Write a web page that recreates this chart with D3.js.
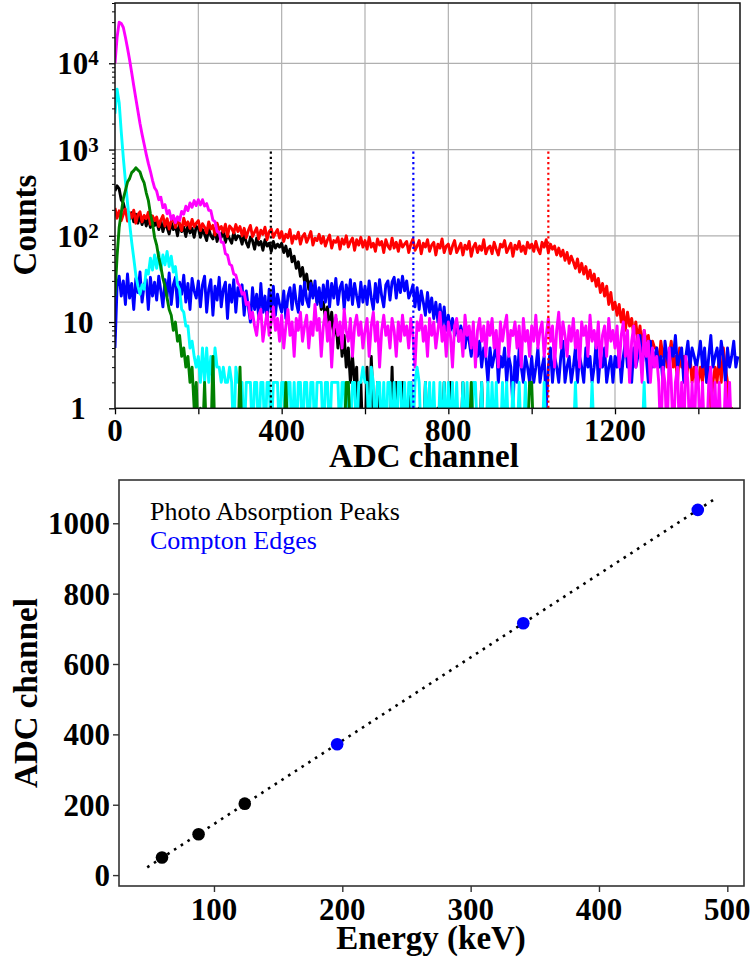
<!DOCTYPE html>
<html><head><meta charset="utf-8">
<script src="https://cdn.jsdelivr.net/npm/d3@7"></script>
<style>
html,body{margin:0;padding:0;background:#fff;}
svg{display:block;}
text{font-family:"Liberation Serif","Times New Roman",Times,serif;}
</style></head><body>
<svg id="chart" width="751" height="958"></svg>
<script>
// ---------- DATA: spectra (counts per channel, sampled every CH_STEP channels) ----------
const CH_STEP = 5;

const blackCounts = [
330,380,350,260,240,190,196,155,185,145,178,140,172,135,165,130,160,125,155,132,
145,118,150,112,138,125,105,142,118,132,100,138,112,126,98,134,108,122,96,128,
124,96,118,104,88,122,100,92,116,86,108,96,118,84,104,92,82,110,90,100,
98,80,104,84,74,96,88,70,94,78,86,68,90,76,82,66,86,72,80,74,
82,64,76,58,70,50,58,42,50,34,43,29,36,24,30,20,26,17,22,14,
17,11,15,8,13,7,11,5,9,4,7,3,5,2,4,2,3,0,2,0,
0,3,0,4,1,0,2,0,0,1,0,0,0,3,0,2,0,0,2,0,
0,0,2,0,0,0,1,0,0,2,0,0,0,0,0,1,0,0,2,0,
0,2,0,0,0,0,0,2,0,0,0,1,0,0,0,0,2,0,0,0
];

const redCounts = [
210,160,195,150,178,205,148,185,162,198,140,176,190,145,172,158,188,136,170,150,
165,128,152,172,130,158,120,148,168,125,150,138,115,160,132,145,122,155,128,140,
150,115,138,126,108,145,120,132,102,140,118,128,110,136,98,130,122,108,135,112,
128,100,122,95,115,132,98,110,124,92,116,104,126,90,112,120,96,108,118,94,
112,86,104,95,118,82,100,92,110,80,98,106,84,96,112,78,94,88,104,82,
98,76,90,102,72,88,84,96,70,92,80,100,74,86,94,68,90,78,96,74,
88,70,96,74,82,66,92,78,86,64,90,76,70,94,72,84,66,88,74,80,
86,64,80,92,68,76,88,62,82,74,90,66,78,84,60,80,72,92,64,76,
80,62,76,88,64,72,82,60,78,70,86,58,74,82,64,76,68,90,62,72,
76,62,84,70,60,80,74,88,64,72,82,58,78,70,86,66,76,62,84,72,
80,66,86,70,62,84,74,90,64,80,70,76,60,72,58,68,52,64,48,58,
50,42,54,38,48,36,44,32,40,30,36,26,32,22,28,20,26,16,22,14,
17,12,16,10,14,8,13,9,11,7,10,6,9,5,8,6,7,4,6,5,
5,3,6,4,5,3,4,6,3,4,2,5,3,4,2,3,4,2,3,2,
2,3,2,4,2,3,1,2,3,2,4,2,5,3,2,0,1,0,0,1
];

const blueCounts = [
5,26,34,20,30,16,36,19,28,14,32,22,38,17,27,31,14,33,20,29,
18,34,23,15,31,20,37,16,27,33,15,29,21,35,17,28,14,32,23,19,
30,15,27,34,13,24,31,12,26,18,33,15,24,29,11,27,17,31,13,25,
20,27,12,23,15,10,25,14,21,11,28,13,20,10,24,14,26,12,21,16,
13,23,11,20,25,14,27,17,13,26,16,29,18,15,28,19,30,16,25,15,
27,17,30,15,28,19,32,16,25,29,14,27,18,31,16,28,20,15,29,17,
26,16,30,19,14,28,17,31,20,15,27,30,18,29,33,19,31,22,34,23,
30,19,22,27,15,25,14,23,17,12,22,13,19,11,17,10,16,9,15,8,
12,8,11,7,10,6,9,7,5,8,6,4,7,5,4,6,3,5,4,2,
5,3,4,6,2,4,3,5,2,4,3,1,4,2,5,3,2,4,3,2,
4,2,3,5,2,3,4,1,3,5,2,4,3,2,4,6,2,3,4,2,
3,5,2,4,3,2,5,3,4,2,3,6,2,4,3,5,2,3,4,2,
4,3,5,2,4,6,3,4,2,5,3,4,7,3,5,4,2,6,3,4,
5,3,4,2,6,4,3,5,4,7,3,4,5,2,4,6,3,5,4,3,
4,6,3,5,2,4,7,3,4,5,3,6,4,2,5,3,4,6,3,4
];

const magentaCounts = [
10000,20000,30000,29000,26000,20000,15000,11000,7800,5500,3900,2800,2000,1500,1150,880,690,560,440,360,
330,262,280,212,230,180,196,155,172,142,166,150,192,178,220,196,240,214,256,224,
262,228,262,222,236,198,196,152,146,112,110,84,84,62,60,47,45,36,35,28,
26,21,22,16,17,11,13,9,7,12,14,6,9,13,7,10,15,8,11,6,
12,5,9,14,7,10,4,11,8,13,6,9,12,5,10,7,16,8,11,4,
9,13,6,10,3,8,12,7,10,5,14,8,6,11,4,9,12,7,10,5,
8,11,4,9,13,6,10,3,8,12,7,9,5,11,8,4,10,6,12,7,
9,5,11,7,3,10,8,12,6,9,4,11,7,10,5,8,13,6,9,4,
10,7,3,9,11,6,8,4,12,7,9,5,10,3,8,11,6,9,4,10,
7,11,5,8,3,10,6,9,12,4,8,7,10,5,9,3,11,6,8,4,
9,6,12,5,8,10,4,7,11,6,9,3,8,13,5,10,7,4,9,6,
11,5,8,3,10,7,9,4,12,6,8,5,10,3,7,9,4,11,6,8,
5,9,3,7,10,4,8,2,6,9,3,7,5,2,8,4,6,2,5,3,
4,2,0,3,2,0,5,2,0,2,3,0,2,0,4,2,0,2,0,3,
2,0,2,0,0,2,3,0,2,0,2,0,0,2,0,2,0,0,0,0
];

const cyanCounts = [
2600,5000,3500,1600,800,430,240,140,85,55,35,26,21,27,24,40,36,55,40,60,
42,64,40,60,46,66,44,58,38,44,27,24,14,13,9,9,5,6,4,3,
4,2,5,2,5,2,4,2,5,3,3,2,3,2,2,3,2,0,3,2,
2,2,0,2,2,2,0,2,2,0,2,2,0,2,2,0,2,2,2,0,
2,2,0,2,2,0,2,0,2,2,0,2,2,0,2,2,0,2,2,2,
0,2,2,0,2,2,2,2,0,2,2,0,2,0,2,2,0,2,2,3,
2,2,0,3,2,0,2,2,0,2,0,2,2,0,2,0,2,2,0,2,
0,2,2,0,2,3,2,0,0,2,0,2,0,2,0,0,2,0,2,0,
2,0,2,0,2,0,0,2,0,2,0,0,2,2,0,0,2,0,0,2,
0,2,0,2,0,0,2,0,2,0,0,2,0,0,2,0,0,2,0,0,
0,0,0,0,0,0,2,0,0,0,0,0,0,0,0,0,0,0,0,0,
0,2,0,0,0,0,0,0,0,2,0,0,0,0,0,0,0,0,0,0,
0,0,0,0,0,0,0,0,0,0,0,0,0,0,2,0,0,0,0,0
];

const greenCounts = [
20,58,125,185,270,335,420,460,540,570,615,580,548,462,410,315,258,180,140,96,
78,56,44,32,26,19,14,12,8,10,6,7,4,5,3,4,2,3,1,2,
0,1,0,2,0,0,0,4,0,0,0,0,0,0,0,0,0,0,0,0,
3,0,0,0,0,0,0,0,0,0,0,0,0,0,0,0,0,0,0,0,
0,0,2,0,0,0,0,0,0,0,0,0,0,0,0,0,0,0,0,0,
0,0,0,0,0,0,0,0,0,0,0,2,2,0,0,0,0,0,0,0,
0,0,0,0,0,0,0,0,0,0,0,0,0,0,0,0,0,0,0,0,
0,0,0,0,0,0,0,0,0,0,0,0,0,0,0,0,0,0,0,0,
0,0,0,0,0,0,0,0,0,0,0,2,0,0,0,0,0,0,0,0,
0,0,0,0,0,0,0,0,0,0,0,0,0,0,0,0,0,0,0,2,
2,0
];

// vertical dotted markers in spectrum panel (ADC channel)
const markerChannels = [374, 716, 1040];
const markerColors = ["#000000", "#0000ff", "#ff0000"];
const markerTopCount = 950;

// top axis ticks
const xTicksTop = [0, 200, 400, 600, 800, 1000, 1200, 1400];
const xTickLabelsTop = ["0", "", "400", "", "800", "", "1200", ""];
const yDecades = [1, 10, 100, 1000, 10000];
const yDecadeBase = ["1", "10", "10", "10", "10"];
const yDecadeExp = ["", "", "2", "3", "4"];

// ---------- DATA: calibration panel ----------
const photoEnergy = [59.5, 88, 124];
const photoADC = [50, 116, 203];
const comptonEnergy = [196, 341, 477];
const comptonADC = [372, 716, 1038];
const fitEnergy = [48, 491];
const fitADC = [22, 1071];
const xTicksBottom = [100, 200, 300, 400, 500];
const yTicksBottom = [0, 200, 400, 600, 800, 1000];

// ---------- DRAW ----------
const svg = d3.select("#chart");
const FONT_TICK = 31, FONT_LABEL = 33;

// ===== Top panel =====
const T = {l: 115, r: 740, t: 3, b: 408.3};
const x = d3.scaleLinear().domain([0, 1500]).range([T.l, T.r]);
const y = d3.scaleLog().domain([1, 50000]).range([T.b, T.t]);

svg.append("defs").append("clipPath").attr("id", "clipTop")
  .append("rect").attr("x", T.l).attr("y", T.t)
  .attr("width", T.r - T.l).attr("height", T.b - T.t);

// grid
const grid = svg.append("g").attr("stroke", "#b0b0b0").attr("stroke-width", 1.2);
grid.selectAll("line.v").data(xTicksTop.filter(v => v > 0)).join("line").attr("class", "v")
  .attr("x1", d => x(d)).attr("x2", d => x(d)).attr("y1", T.t).attr("y2", T.b);
grid.selectAll("line.h").data(yDecades.filter(v => v > 1)).join("line").attr("class", "h")
  .attr("x1", T.l).attr("x2", T.r).attr("y1", d => y(d)).attr("y2", d => y(d));

// spectra
const series = [
  {c: "#000000", v: blackCounts},
  {c: "#ff0000", v: redCounts},
  {c: "#0000ff", v: blueCounts},
  {c: "#ff00ff", v: magentaCounts},
  {c: "#00ffff", v: cyanCounts},
  {c: "#008000", v: greenCounts}
];
const lineGen = d3.line()
  .x((d, i) => x(i * CH_STEP))
  .y(d => y(Math.max(d, 0.4)));
const plotG = svg.append("g").attr("clip-path", "url(#clipTop)");
plotG.selectAll("path.s").data(series).join("path").attr("class", "s")
  .attr("d", d => lineGen(d.v))
  .attr("fill", "none").attr("stroke", d => d.c)
  .attr("stroke-width", 2.9).attr("stroke-linejoin", "round");

// dotted markers
plotG.selectAll("line.m").data(markerChannels).join("line").attr("class", "m")
  .attr("x1", d => x(d)).attr("x2", d => x(d))
  .attr("y1", y(markerTopCount)).attr("y2", T.b)
  .attr("stroke", (d, i) => markerColors[i]).attr("stroke-width", 2.2)
  .attr("stroke-dasharray", "2.2,3.1");

// axes ticks
const xAx = svg.append("g").attr("transform", `translate(0,${T.b})`)
  .call(d3.axisBottom(x).tickValues(xTicksTop).tickSize(6).tickSizeOuter(0).tickFormat(""));
xAx.select(".domain").remove();
xAx.selectAll("line").attr("stroke", "#000").attr("stroke-width", 1.3);

const yAx = svg.append("g").attr("transform", `translate(${T.l},0)`)
  .call(d3.axisLeft(y).tickValues(yDecades).tickSize(6).tickSizeOuter(0).tickFormat(""));
yAx.select(".domain").remove();
yAx.selectAll("line").attr("stroke", "#000").attr("stroke-width", 1.3);
const minorVals = y.ticks().filter(v => !yDecades.includes(v));
const yAxm = svg.append("g").attr("transform", `translate(${T.l},0)`)
  .call(d3.axisLeft(y).tickValues(minorVals).tickSize(3).tickSizeOuter(0).tickFormat(""));
yAxm.select(".domain").remove();
yAxm.selectAll("line").attr("stroke", "#000").attr("stroke-width", 1);

// frame
svg.append("rect").attr("x", T.l).attr("y", T.t).attr("width", T.r - T.l).attr("height", T.b - T.t)
  .attr("fill", "none").attr("stroke", "#111").attr("stroke-width", 1.5);

// tick labels
svg.append("g").selectAll("text").data(xTicksTop).join("text")
  .attr("x", d => x(d)).attr("y", 441).attr("text-anchor", "middle")
  .attr("font-size", FONT_TICK).attr("font-weight", "bold")
  .text((d, i) => xTickLabelsTop[i]);

const yl = svg.append("g").selectAll("text").data(yDecades).join("text")
  .attr("x", 78).attr("y", d => y(d) + 11).attr("text-anchor", "middle")
  .attr("font-size", FONT_TICK).attr("font-weight", "bold");
yl.append("tspan").text((d, i) => yDecadeBase[i]);
yl.append("tspan").attr("font-size", 21).attr("dy", -9).text((d, i) => yDecadeExp[i]);

// axis titles
svg.append("text").attr("transform", "translate(36,225) rotate(-90)")
  .attr("text-anchor", "middle").attr("font-size", FONT_LABEL).attr("font-weight", "bold").text("Counts");
svg.append("text").attr("x", 424).attr("y", 467)
  .attr("text-anchor", "middle").attr("font-size", FONT_LABEL).attr("font-weight", "bold").text("ADC channel");

// ===== Bottom panel =====
const B = {l: 119, r: 744, t: 480, b: 886};
const x2 = d3.scaleLinear().domain([26, 513]).range([B.l, B.r]);
const y2 = d3.scaleLinear().domain([-31, 1123]).range([B.b, B.t]);

// fit line
const fitPts = fitEnergy.map((e, i) => [e, fitADC[i]]);
svg.append("path").attr("d", d3.line().x(d => x2(d[0])).y(d => y2(d[1]))(fitPts))
  .attr("fill", "none").attr("stroke", "#000").attr("stroke-width", 2.6)
  .attr("stroke-dasharray", "2.6,5.4");

// points
const photoPts = photoEnergy.map((e, i) => [e, photoADC[i]]);
const comptonPts = comptonEnergy.map((e, i) => [e, comptonADC[i]]);
svg.append("g").selectAll("circle").data(photoPts).join("circle")
  .attr("cx", d => x2(d[0])).attr("cy", d => y2(d[1])).attr("r", 6.3).attr("fill", "#000");
svg.append("g").selectAll("circle").data(comptonPts).join("circle")
  .attr("cx", d => x2(d[0])).attr("cy", d => y2(d[1])).attr("r", 6.3).attr("fill", "#0000ff");

// axes
const xAx2 = svg.append("g").attr("transform", `translate(0,${B.b})`)
  .call(d3.axisBottom(x2).tickValues(xTicksBottom).tickSize(6).tickSizeOuter(0).tickFormat(""));
xAx2.select(".domain").remove();
xAx2.selectAll("line").attr("stroke", "#333").attr("stroke-width", 1.4);
const yAx2 = svg.append("g").attr("transform", `translate(${B.l},0)`)
  .call(d3.axisLeft(y2).tickValues(yTicksBottom).tickSize(6).tickSizeOuter(0).tickFormat(""));
yAx2.select(".domain").remove();
yAx2.selectAll("line").attr("stroke", "#333").attr("stroke-width", 1.4);

svg.append("rect").attr("x", B.l).attr("y", B.t).attr("width", B.r - B.l).attr("height", B.b - B.t)
  .attr("fill", "none").attr("stroke", "#333").attr("stroke-width", 1.6);

svg.append("g").selectAll("text").data(xTicksBottom).join("text")
  .attr("x", d => x2(d)).attr("y", 920).attr("text-anchor", "middle")
  .attr("font-size", FONT_TICK).attr("font-weight", "bold").text(d => d);
svg.append("g").selectAll("text").data(yTicksBottom).join("text")
  .attr("x", 110).attr("y", d => y2(d) + 11).attr("text-anchor", "end")
  .attr("font-size", FONT_TICK).attr("font-weight", "bold").text(d => d);

svg.append("text").attr("x", 431).attr("y", 949).attr("text-anchor", "middle")
  .attr("font-size", FONT_LABEL).attr("font-weight", "bold").text("Energy (keV)");
svg.append("text").attr("transform", "translate(37,693) rotate(-90)")
  .attr("text-anchor", "middle").attr("font-size", FONT_LABEL).attr("font-weight", "bold").text("ADC channel");

// legend text
svg.append("text").attr("x", 150).attr("y", 520).attr("font-size", 26).attr("fill", "#000")
  .text("Photo Absorption Peaks");
svg.append("text").attr("x", 150).attr("y", 549).attr("font-size", 26).attr("fill", "#0000ff")
  .text("Compton Edges");
</script>
</body></html>
